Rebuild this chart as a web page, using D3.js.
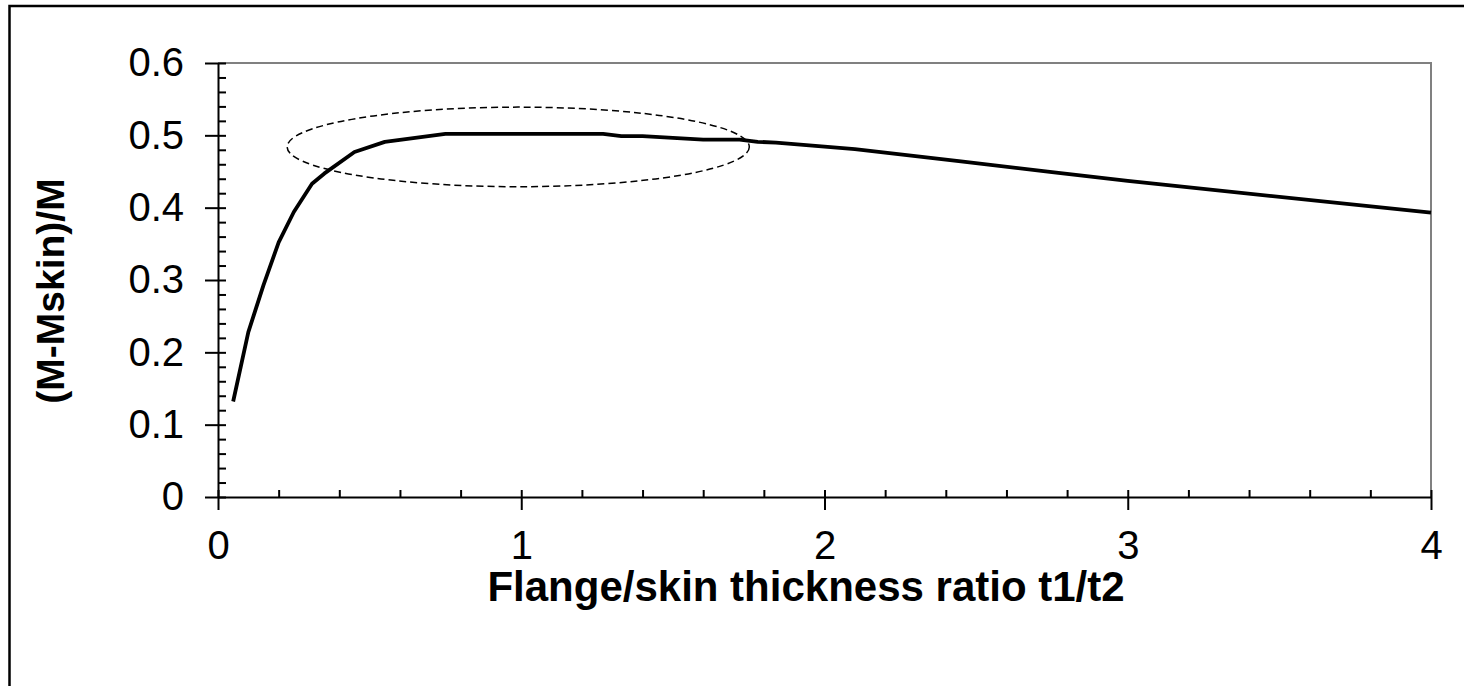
<!DOCTYPE html>
<html lang="en">
<head>
    <meta charset="UTF-8">
    <title>Flange/skin thickness ratio</title>
    <script src="https://cdn.jsdelivr.net/npm/d3@7"></script>
    <style>
        body {
            margin: 0;
            background-color: #fff;
        }

        svg {
            display: block;
            font-family: "Liberation Sans", Arial, sans-serif;
        }

        .axis path,
        .axis line {
            stroke: #000;
            stroke-width: 2;
        }

        .axis text {
            font-size: 40px;
            fill: #000;
        }

        .title {
            font-weight: bold;
        }
    </style>
</head>
<body>
    <script>
        // thickness ratio t1/t2 and (M-Mskin)/M
        const ratio = [0.05, 0.1, 0.15, 0.2, 0.25, 0.31, 0.35, 0.45, 0.55, 0.75, 1.0, 1.27, 1.33, 1.4, 1.6, 1.72, 1.78, 1.84, 2.1, 2.45, 2.75, 3.0, 4.0];
        const moment = [0.132, 0.228, 0.293, 0.352, 0.394, 0.433, 0.447, 0.477, 0.491, 0.502, 0.502, 0.502, 0.499, 0.499, 0.494, 0.494, 0.491, 0.49, 0.481, 0.464, 0.449, 0.437, 0.393];

        const xTicks = [0, 1, 2, 3, 4];
        const yTicks = [0, 0.1, 0.2, 0.3, 0.4, 0.5, 0.6];

        // dashed ellipse marking the plateau (data units)
        const ellipse = { cx: 0.99, cy: 0.484, rx: 0.762, ry: 0.055 };

        const w = 1464;
        const h = 686;
        const margin = { top: 63, right: 33, bottom: 189, left: 218 };

        const svg = d3.select('body')
            .append('svg')
            .attr('width', w)
            .attr('height', h);

        // outer frame, runs past the right and bottom edge
        svg.append('rect')
            .attr('x', 9.5)
            .attr('y', 6)
            .attr('width', w + 20)
            .attr('height', h + 20)
            .attr('fill', 'none')
            .attr('stroke', '#000')
            .attr('stroke-width', 2.5);

        const x = d3.scaleLinear([0, 4], [margin.left, w - margin.right]);
        const y = d3.scaleLinear([0, 0.6], [h - margin.bottom, margin.top]);

        // grey plot frame top and right
        svg.append('path')
            .attr('d', `M${x(0)},${y(0.6)}H${x(4)}V${y(0)}`)
            .attr('fill', 'none')
            .attr('stroke', '#808080')
            .attr('stroke-width', 2);

        // inside ticks, major and minor
        svg.append('g')
            .attr('class', 'axis')
            .attr('transform', `translate(${x(0)},0)`)
            .call(d3.axisRight(y).tickValues(d3.range(0, 0.601, 0.02)).tickSize(8).tickSizeOuter(0).tickFormat(''))
            .call(g => g.select('.domain').remove());

        svg.append('g')
            .attr('class', 'axis')
            .attr('transform', `translate(0,${y(0)})`)
            .call(d3.axisTop(x).tickValues(d3.range(0, 4.001, 0.2)).tickSize(7).tickSizeOuter(0).tickFormat(''))
            .call(g => g.select('.domain').remove());

        // outside major ticks with labels
        svg.append('g')
            .attr('class', 'axis')
            .attr('transform', `translate(${x(0)},0)`)
            .call(d3.axisLeft(y).tickValues(yTicks).tickSize(13).tickSizeOuter(0).tickPadding(21).tickFormat(d => d === 0 ? '0' : d3.format('.1f')(d)));

        svg.append('g')
            .attr('class', 'axis')
            .attr('transform', `translate(0,${y(0)})`)
            .call(d3.axisBottom(x).tickValues(xTicks).tickSize(13).tickSizeOuter(0).tickPadding(21).tickFormat(d3.format('d')));

        const line = d3.line()
            .x(i => x(ratio[i]))
            .y(i => y(moment[i]));

        svg.append('path')
            .attr('d', line(d3.range(ratio.length)))
            .attr('fill', 'none')
            .attr('stroke', '#000')
            .attr('stroke-width', 3.8)
            .attr('stroke-linejoin', 'round');

        svg.append('ellipse')
            .attr('cx', x(ellipse.cx))
            .attr('cy', y(ellipse.cy))
            .attr('rx', x(ellipse.rx) - x(0))
            .attr('ry', y(0) - y(ellipse.ry))
            .attr('fill', 'none')
            .attr('stroke', '#000')
            .attr('stroke-width', 1.5)
            .attr('stroke-dasharray', '7,4');

        svg.append('text')
            .attr('class', 'title')
            .attr('x', 806)
            .attr('y', 601)
            .attr('text-anchor', 'middle')
            .style('font-size', '42px')
            .text('Flange/skin thickness ratio t1/t2');

        svg.append('text')
            .attr('class', 'title')
            .attr('transform', `translate(64,291) rotate(-90)`)
            .attr('text-anchor', 'middle')
            .style('font-size', '39px')
            .text('(M-Mskin)/M');
    </script>
</body>
</html>
